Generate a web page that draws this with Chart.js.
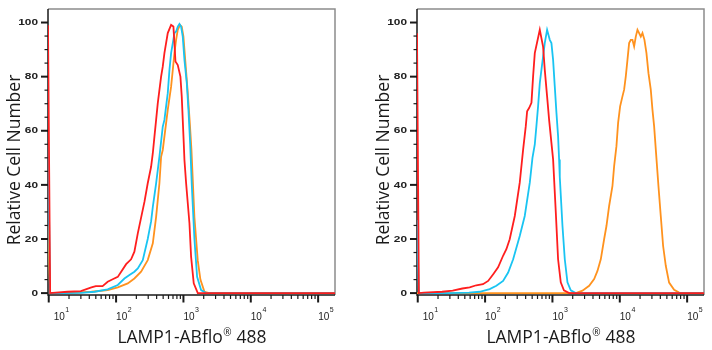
<!DOCTYPE html>
<html>
<head>
<meta charset="utf-8">
<script src="https://cdn.jsdelivr.net/npm/chart.js@4.4.0/dist/chart.umd.min.js"></script>
<style>
    body { margin: 0; background: #fff; }
    #wrap { position: relative; width: 712px; height: 350px; }
    .panel { position: absolute; top: 0; }
</style>
</head>
<body>
<div id="wrap">
    <canvas id="chart1" class="panel" width="356" height="350" style="left:0"></canvas>
    <canvas id="chart2" class="panel" width="356" height="350" style="left:356px"></canvas>
</div>
<script>
// axis setup
var xMin = 9.75, xMax = 178000;
var yMin = -0.7, yMax = 105;
var yTicks = [0, 20, 40, 60, 80, 100];
var xDecades = [10, 100, 1000, 10000, 100000];
var xExponents = ["1", "2", "3", "4", "5"];
var xTitle = "LAMP1-ABflo";
var xTitleMark = "\u00AE";
var xTitleEnd = " 488";
var yTitle = "Relative Cell Number";

// left panel (histogram, relative cell number per fluorescence)
var leftRedX = [9.75, 10.5, 11.5, 19, 30, 43, 50, 63, 75, 89, 106, 119, 141, 167, 187, 210, 264, 295, 331, 351, 371, 393, 416, 466, 493, 522, 585, 656, 710, 735, 761, 824, 902, 944, 977, 1011, 1035, 1096, 1228, 1300, 1422, 1633, 178000];
var leftRedY = [99, 0, 0.1, 0.5, 0.7, 2.1, 2.6, 2.6, 4.2, 5.1, 6.0, 7.9, 10.7, 12.5, 15.3, 22.1, 33.8, 40.6, 46.7, 51.7, 57.8, 64.0, 70.2, 80.0, 83.7, 88.7, 96.1, 99.1, 98.5, 92.4, 85.6, 84.3, 80.0, 72.6, 64.0, 55.4, 49.2, 40.6, 25.8, 13.4, 3.6, 0, 0];

var leftCyanX = [9.75, 10.5, 15, 30, 48, 75, 106, 133, 158, 187, 210, 249, 295, 331, 351, 393, 440, 493, 522, 585, 620, 656, 695, 735, 778, 824, 873, 923, 977, 1035, 1122, 1187, 1260, 1330, 1456, 1596, 1829, 2173, 178000];
var leftCyanY = [55, 0, 0, 0.1, 0.5, 1.4, 3.0, 5.4, 6.7, 7.9, 9.1, 12.2, 20, 26.5, 31.9, 40.6, 50.4, 61.5, 64.0, 73.9, 82.5, 88.7, 92.4, 96.1, 96.7, 98.5, 99.5, 98.5, 94.8, 86.2, 77.6, 67.7, 55, 40, 20, 6.0, 1.1, 0, 0];

var leftOrangeX = [9.75, 10.5, 19, 43, 75, 106, 149, 187, 235, 295, 351, 393, 440, 466, 493, 585, 656, 695, 735, 778, 824, 891, 944, 1000, 1072, 1159, 1242, 1315, 1456, 1633, 1787, 2051, 2433, 178000];
var leftOrangeY = [25, 0, 0, 0.5, 1.1, 2.1, 3.6, 5.4, 7.9, 12.2, 18.4, 28.2, 40.6, 50.4, 52.9, 67.7, 76.3, 82.5, 88.7, 93.6, 97.3, 99.1, 98.5, 94.8, 85, 74, 63, 53, 28, 12, 5, 0.5, 0, 0];

// right panel
var rightRedX = [9.75, 10.4, 12.4, 23, 33, 46, 59, 74, 93, 111, 132, 156, 185, 207, 232, 276, 327, 367, 402, 421, 450, 488, 516, 547, 649, 727, 769, 833, 892, 966, 1023, 1121, 1213, 1329, 1481, 1770, 178000];
var rightRedY = [96, 0, 0.2, 0.5, 0.9, 1.7, 2.1, 2.9, 3.3, 4.5, 7.0, 9.5, 13.8, 16.2, 19.9, 28.5, 40.8, 53, 61.7, 67.2, 68.4, 70.3, 80, 88.7, 97.3, 91, 82.6, 72.7, 64.1, 55.5, 49.4, 30, 12.5, 4, 1, 0, 0];

var rightCyanX = [9.75, 10.4, 29, 58, 83, 117, 147, 185, 220, 261, 327, 388, 461, 505, 547, 578, 612, 649, 687, 727, 769, 833, 913, 966, 1023, 1083, 1147, 1213, 1256, 1285, 1408, 1525, 1671, 1872, 2222, 178000];
var rightCyanY = [27, 0, 0, 0.2, 0.5, 1.5, 2.7, 4.5, 7.6, 12.5, 21.1, 28.5, 40.8, 50, 55, 61.7, 69, 77.6, 82.6, 87.5, 92.4, 97.3, 93.6, 92.4, 86.2, 76.4, 66.6, 58, 49.4, 43, 25, 12.5, 4, 1, 0, 0];

var rightOrangeX = [9.75, 2222, 2793, 3508, 4161, 4660, 5222, 5853, 6339, 6948, 7786, 8245, 8920, 9443, 10115, 10956, 11600, 12280, 13000, 13760, 14570, 15420, 16330, 17290, 18300, 19370, 20510, 21720, 23240, 24890, 26660, 28850, 30550, 32340, 34240, 37500, 40600, 44000, 48200, 54000, 64100, 76100, 95500, 178000];
var rightOrangeY = [0, 0, 0.9, 2.7, 5.2, 8.2, 12.5, 19.9, 24.8, 32.2, 39.6, 46.9, 54.3, 62.9, 69, 72.7, 75.2, 80.1, 86.2, 92.4, 93.6, 93.6, 91.2, 94.8, 97.3, 96.1, 94.8, 96.1, 93.6, 88.7, 81.3, 75.2, 67.8, 61.7, 53.1, 39.6, 28.5, 17.4, 10.1, 3.9, 1.2, 0.2, 0, 0];

var RED = "rgb(255, 30, 30)";
var CYAN = "rgb(25, 196, 242)";
var ORANGE = "rgb(255, 146, 30)";

function toPoints(xs, ys) {
    return xs.map(function (x, i) { return {x: x, y: ys[i]}; });
}

// minor tick positions
var xMinor = [];
xDecades.forEach(function (d) {
    for (var m = 2; m <= 9; m++) {
        if (d * m < xMax) xMinor.push(d * m);
    }
});
var yMinor = [];
for (var v = 5; v <= 100; v += 5) {
    if (yTicks.indexOf(v) < 0) yMinor.push(v);
}

function tick(ctx, x1, y1, x2, y2, w) {
    ctx.lineWidth = w;
    ctx.beginPath();
    ctx.moveTo(x1, y1);
    ctx.lineTo(x2, y2);
    ctx.stroke();
}

//Axes drawn like the cytometry software export
var flowAxes = {
    id: "flowAxes",
    beforeDatasetsDraw: function (chart) {
        var ctx = chart.ctx, a = chart.chartArea;
        var sx = chart.scales.x, sy = chart.scales.y;
        ctx.save();

        // frame
        ctx.lineWidth = 1.5;
        ctx.strokeStyle = "#8c8c8c";
        ctx.beginPath();
        ctx.moveTo(a.left, a.top);
        ctx.lineTo(a.right, a.top);
        ctx.lineTo(a.right, a.bottom);
        ctx.stroke();
        ctx.strokeStyle = "#1a1a1a";
        ctx.beginPath();
        ctx.moveTo(a.left, a.top);
        ctx.lineTo(a.left, a.bottom);
        ctx.lineTo(a.right, a.bottom);
        ctx.stroke();

        // y ticks + labels
        yMinor.forEach(function (v) {
            var py = sy.getPixelForValue(v);
            tick(ctx, a.left - 3.5, py, a.left, py, 1.2);
        });
        ctx.fillStyle = "#222";
        ctx.font = "bold 9.5px 'Liberation Sans', Arial, sans-serif";
        ctx.textAlign = "right";
        ctx.textBaseline = "middle";
        yTicks.forEach(function (v) {
            var py = sy.getPixelForValue(v);
            tick(ctx, a.left - 7, py, a.left, py, 2);
            ctx.save();
            ctx.translate(a.left - 10, py);
            ctx.scale(1.25, 1);
            ctx.fillText(String(v), 0, 0);
            ctx.restore();
        });

        // x ticks + labels
        xMinor.forEach(function (v) {
            var px = sx.getPixelForValue(v);
            tick(ctx, px, a.bottom, px, a.bottom + 4, 1.2);
        });
        ctx.textAlign = "left";
        ctx.textBaseline = "alphabetic";
        xDecades.forEach(function (v, i) {
            var px = sx.getPixelForValue(v);
            tick(ctx, px, a.bottom, px, a.bottom + 7.5, 2);
            var lx = px + (i === 0 ? 5 : 0);
            ctx.font = "10px 'Liberation Sans', Arial, sans-serif";
            ctx.fillText("10", lx, a.bottom + 25);
            var w = ctx.measureText("10").width;
            ctx.font = "7px 'Liberation Sans', Arial, sans-serif";
            ctx.fillText(xExponents[i], lx + w + 0.5, a.bottom + 17);
        });

        // x title
        ctx.fillStyle = "#1a1a1a";
        var big = "17.5px 'Open Sans', sans-serif", small = "10px 'Open Sans', sans-serif";
        ctx.font = big;
        var w1 = ctx.measureText(xTitle).width, w3 = ctx.measureText(xTitleEnd).width;
        ctx.font = small;
        var w2 = ctx.measureText(xTitleMark).width;
        var tx = (a.left + a.right) / 2 - (w1 + w2 + w3) / 2;
        var ty = a.bottom + 48;
        ctx.font = big;
        ctx.fillText(xTitle, tx, ty);
        ctx.font = small;
        ctx.fillText(xTitleMark, tx + w1 + 0.5, ty - 7);
        ctx.font = big;
        ctx.fillText(xTitleEnd, tx + w1 + w2 + 1, ty);

        // y title
        ctx.save();
        ctx.translate(a.left - 28, 160);
        ctx.rotate(-Math.PI / 2);
        ctx.textAlign = "center";
        ctx.fillText(yTitle, 0, 0);
        ctx.restore();

        ctx.restore();
    }
};

function makePanel(id, padLeft, padRight, series) {
    return new Chart(document.getElementById(id), {
        type: "line",
        data: {
            datasets: series.map(function (s) {
                return {
                    data: toPoints(s[0], s[1]),
                    borderColor: s[2],
                    borderWidth: 1.8,
                    pointRadius: 0,
                    tension: 0,
                    fill: false
                };
            })
        },
        options: {
            responsive: false,
            animation: false,
            layout: {padding: {left: padLeft, right: padRight, top: 9, bottom: 55}},
            plugins: {legend: {display: false}, tooltip: {enabled: false}},
            scales: {
                x: {type: "logarithmic", min: xMin, max: xMax, display: false},
                y: {type: "linear", min: yMin, max: yMax, display: false}
            }
        },
        plugins: [flowAxes]
    });
}

makePanel("chart1", 48, 21, [
    [leftRedX, leftRedY, RED],
    [leftCyanX, leftCyanY, CYAN],
    [leftOrangeX, leftOrangeY, ORANGE]
]);

makePanel("chart2", 61, 8, [
    [rightRedX, rightRedY, RED],
    [rightCyanX, rightCyanY, CYAN],
    [rightOrangeX, rightOrangeY, ORANGE]
]);
</script>
</body>
</html>
